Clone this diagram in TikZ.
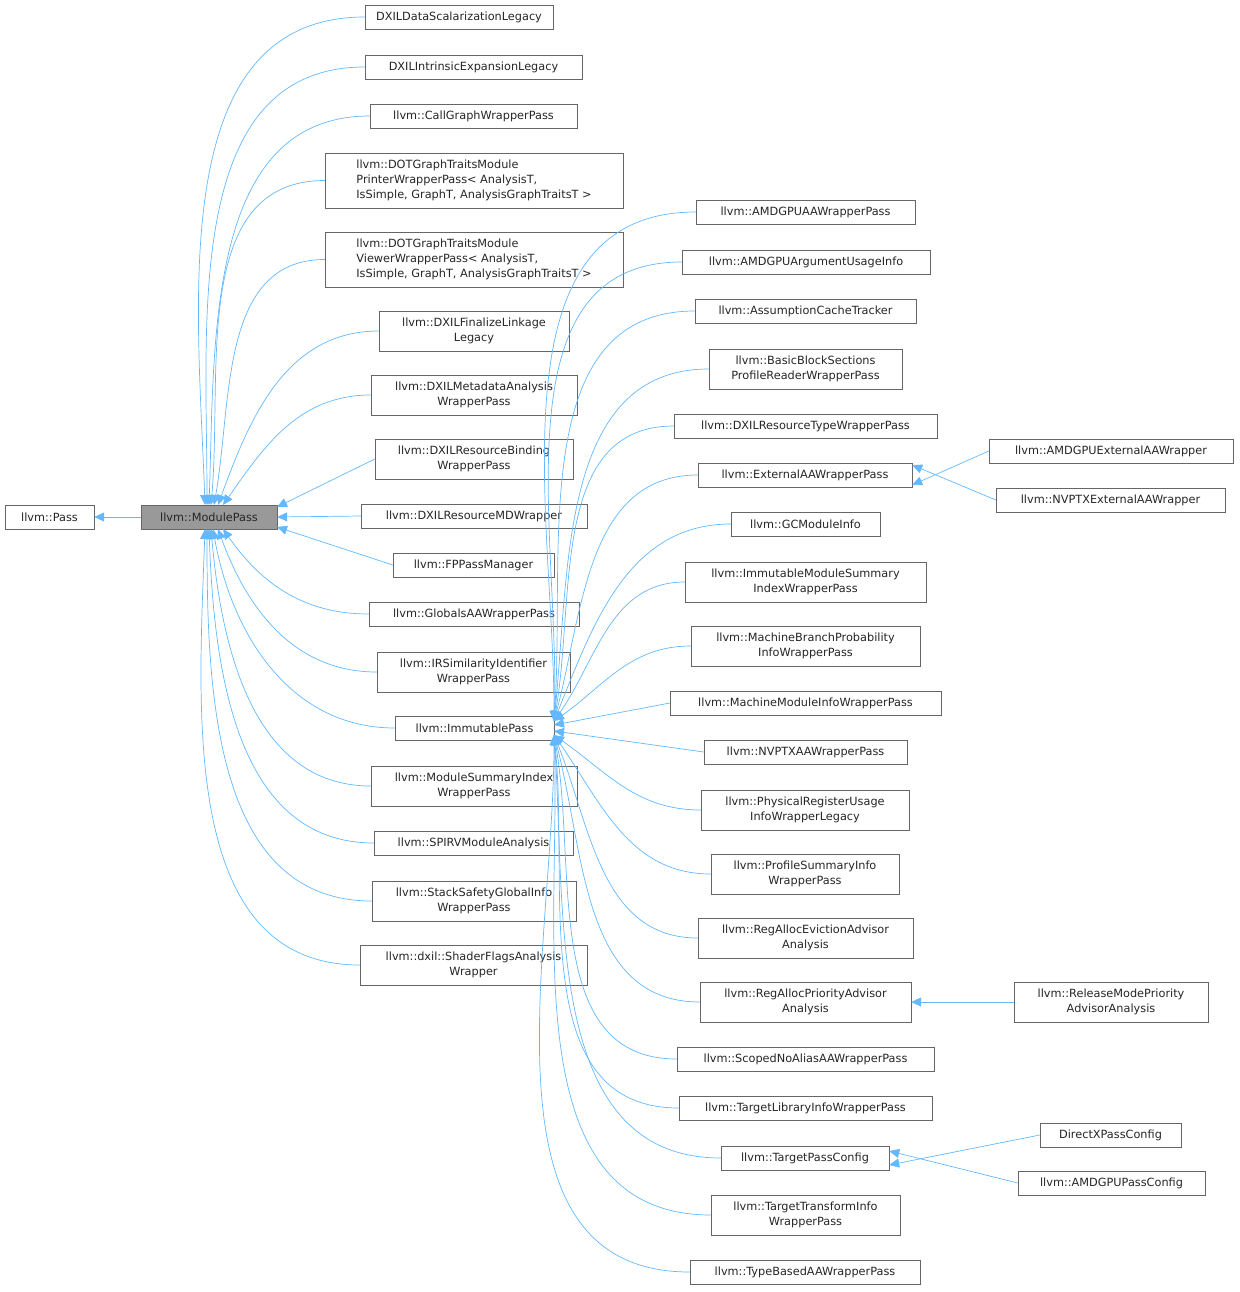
\documentclass[tikz,border=0pt]{standalone}
\usepackage{fontspec}
\setmainfont{DejaVu Sans}
\usetikzlibrary{arrows.meta}
\definecolor{edgec}{HTML}{63B8FF}
\definecolor{boxc}{HTML}{666666}
\tikzset{
  cls/.style={draw=boxc, fill=white, inner sep=0pt, align=center, font=\fontsize{11.3}{15}\selectfont, text=black!85},
  edge/.style={draw=edgec, line width=0.7pt, -{Stealth[length=10pt,width=9pt,inset=0pt,fill=edgec]}},
}
\newcommand{\NN}[7][center]{\node[cls,align=#1,minimum width=#5pt,minimum height=#6pt] (#2) at (#3,#4) {#7};}
\begin{document}
\begin{tikzpicture}[x=1pt,y=-1pt]
\useasboundingbox (0,0) rectangle (1239,1292);
\NN{pass}{49.5}{517}{89}{24}{llvm::Pass}
\node[cls,fill=black!40,minimum width=136pt,minimum height=24pt] (mp) at (209,517) {llvm::ModulePass};
% middle column
\NN{a1}{459}{17}{188}{24}{DXILDataScalarizationLegacy}
\NN{a2}{473.5}{67}{217}{24}{DXILIntrinsicExpansionLegacy}
\NN{a3}{473.5}{116}{207}{24}{llvm::CallGraphWrapperPass}
\NN[left]{a4}{474}{180.5}{298}{55}{llvm::DOTGraphTraitsModule\\PrinterWrapperPass< AnalysisT,\\ IsSimple, GraphT, AnalysisGraphTraitsT >}
\NN[left]{a5}{474}{259.5}{298}{55}{llvm::DOTGraphTraitsModule\\ViewerWrapperPass< AnalysisT,\\ IsSimple, GraphT, AnalysisGraphTraitsT >}
\NN{a6}{474}{331}{190}{40}{llvm::DXILFinalizeLinkage\\Legacy}
\NN{a7}{474}{395}{206}{40}{llvm::DXILMetadataAnalysis\\WrapperPass}
\NN{a8}{474}{459}{198}{40}{llvm::DXILResourceBinding\\WrapperPass}
\NN{a9}{474}{516}{226}{24}{llvm::DXILResourceMDWrapper}
\NN{a10}{473.5}{565}{161}{24}{llvm::FPPassManager}
\NN{a11}{474}{614}{210}{24}{llvm::GlobalsAAWrapperPass}
\NN{a12}{473.5}{672}{193}{40}{llvm::IRSimilarityIdentifier\\WrapperPass}
\NN{ip}{474.5}{728}{159}{24}{llvm::ImmutablePass}
\NN{a14}{474}{786}{206}{40}{llvm::ModuleSummaryIndex\\WrapperPass}
\NN{a15}{473.5}{843}{199}{24}{llvm::SPIRVModuleAnalysis}
\NN{a16}{474}{901}{204}{40}{llvm::StackSafetyGlobalInfo\\WrapperPass}
\NN{a17}{473.5}{965}{227}{40}{llvm::dxil::ShaderFlagsAnalysis\\Wrapper}
% right column
\NN{b1}{805.5}{212}{219}{24}{llvm::AMDGPUAAWrapperPass}
\NN{b2}{806}{262}{248}{24}{llvm::AMDGPUArgumentUsageInfo}
\NN{b3}{805.5}{311}{221}{24}{llvm::AssumptionCacheTracker}
\NN{b4}{805.5}{369}{193}{40}{llvm::BasicBlockSections\\ProfileReaderWrapperPass}
\NN{b5}{805.5}{426}{263}{24}{llvm::DXILResourceTypeWrapperPass}
\NN{b6}{805}{475}{214}{24}{llvm::ExternalAAWrapperPass}
\NN{b7}{805.5}{524}{149}{24}{llvm::GCModuleInfo}
\NN{b8}{805.5}{582}{241}{40}{llvm::ImmutableModuleSummary\\IndexWrapperPass}
\NN{b9}{805.5}{646}{229}{40}{llvm::MachineBranchProbability\\InfoWrapperPass}
\NN{b10}{805.5}{703}{271}{24}{llvm::MachineModuleInfoWrapperPass}
\NN{b11}{805.5}{752}{203}{24}{llvm::NVPTXAAWrapperPass}
\NN{b12}{805}{810}{208}{40}{llvm::PhysicalRegisterUsage\\InfoWrapperLegacy}
\NN{b13}{805}{874}{188}{40}{llvm::ProfileSummaryInfo\\WrapperPass}
\NN{b14}{805.5}{938}{215}{40}{llvm::RegAllocEvictionAdvisor\\Analysis}
\NN{b15}{805.5}{1002}{211}{40}{llvm::RegAllocPriorityAdvisor\\Analysis}
\NN{b16}{805.5}{1059}{257}{24}{llvm::ScopedNoAliasAAWrapperPass}
\NN{b17}{805.5}{1108}{253}{24}{llvm::TargetLibraryInfoWrapperPass}
\NN{b18}{805}{1158}{168}{24}{llvm::TargetPassConfig}
\NN{b19}{805.5}{1215}{189}{40}{llvm::TargetTransformInfo\\WrapperPass}
\NN{b20}{805}{1272}{230}{24}{llvm::TypeBasedAAWrapperPass}
% far right
\NN{c1}{1111}{451}{244}{24}{llvm::AMDGPUExternalAAWrapper}
\NN{c2}{1110.5}{500}{229}{24}{llvm::NVPTXExternalAAWrapper}
\NN{c3}{1111}{1002}{194}{40}{llvm::ReleaseModePriority\\AdvisorAnalysis}
\NN{c4}{1110.5}{1135}{141}{24}{DirectXPassConfig}
\NN{c5}{1111.5}{1183}{187}{24}{llvm::AMDGPUPassConfig}
% edges
\draw[edge] (mp.west) -- (pass.east);
\foreach \n/\x/\ia in {a1/205/92,a2/207/90,a3/209/88,a4/211/85,a5/214/80,a6/218/70,a7/223/55}
  \draw[edge] (\n.west) to[out=180,in=\ia] (\x,505);
\draw[edge] (a8.west) -- (277,507);
\draw[edge] (a9.west) -- (mp.east);
\draw[edge] (a10.west) -- (277,527);
\foreach \n/\x/\ia in {a17/205/-92,a16/207/-90,a15/209/-88,a14/211/-85,ip/213/-80,a12/218/-70,a11/223/-55}
  \draw[edge] (\n.west) to[out=180,in=\ia] (\x,529);
% immutable pass children
\foreach \n/\ia in {b1/90,b2/88,b3/86,b4/84,b5/80,b6/75,b7/68,b8/55,b9/35}
  \draw[edge] (\n.west) to[out=180,in=\ia] (554,721);
\draw[edge] (b10.west) -- (554,725);
\draw[edge] (b11.west) -- (554,731);
\foreach \n/\ia in {b12/-35,b13/-55,b14/-68,b15/-75,b16/-80,b17/-84,b18/-86,b19/-88,b20/-90}
  \draw[edge] (\n.west) to[out=180,in=\ia] (554,735);
\draw[edge] (c1.west) -- ([yshift=-10pt]b6.east);
\draw[edge] (c2.west) -- ([yshift=10pt]b6.east);
\draw[edge] (c3.west) -- (b15.east);
\draw[edge] (c4.west) -- ([yshift=-7pt]b18.east);
\draw[edge] (c5.west) -- ([yshift=7pt]b18.east);
\end{tikzpicture}
\end{document}
